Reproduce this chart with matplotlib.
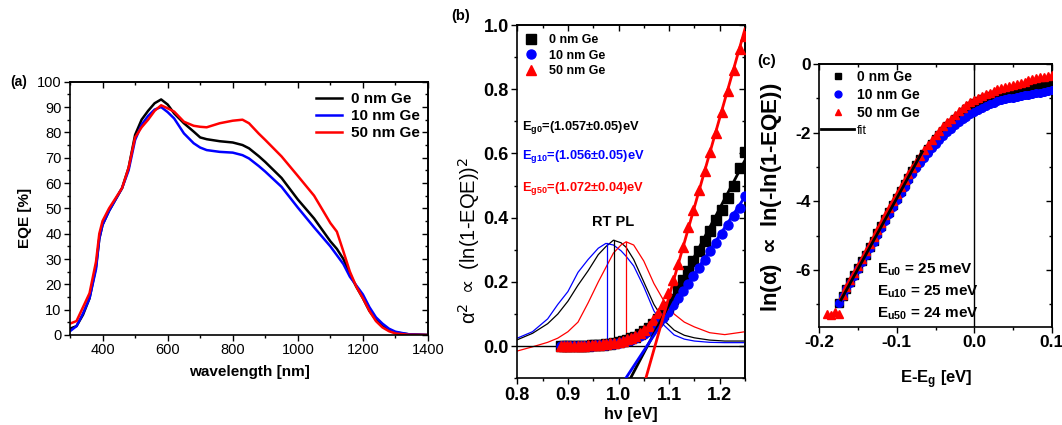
import matplotlib
matplotlib.use('Agg')
import matplotlib.pyplot as plt
from matplotlib.ticker import MultipleLocator

plt.rcParams['font.family'] = ['Liberation Sans', 'DejaVu Sans']
plt.rcParams['mathtext.fontset'] = 'custom'
plt.rcParams['mathtext.rm'] = 'Liberation Sans'
plt.rcParams['mathtext.bf'] = 'Liberation Sans:bold'
plt.rcParams['mathtext.it'] = 'Liberation Sans:italic'

# ---------------- data: panel (a) EQE ----------------
series_labels = ['0 nm Ge', '10 nm Ge', '50 nm Ge']
wavelength = [300, 320, 340, 360, 380, 390, 400, 420, 440, 460, 480, 500, 520, 540, 560, 580,
              600, 620, 650, 680, 700, 720, 760, 800, 830, 850, 880, 900, 950, 1000, 1050,
              1100, 1120, 1140, 1160, 1180, 1200, 1220, 1240, 1260, 1280, 1300, 1340, 1400]
eqe_0 = [2.5, 3.5, 8, 14.5, 27, 38, 43.5, 49, 53.5, 58, 66, 79, 85, 88.5, 91.5, 93,
         91, 87.5, 83.6, 80.3, 78, 77.3, 76.5, 76, 75, 73.7, 70.6, 68.3, 62, 53.5, 46,
         37, 34, 30, 24, 19, 14.5, 9.5, 6, 3.5, 2, 1, 0.3, 0]
eqe_10 = [1.5, 3.5, 8.5, 14.5, 26, 38, 43.5, 49, 53.5, 58, 65, 77, 83, 86.5, 89, 90,
          88, 85.5, 79.6, 75.7, 74, 73, 72.3, 72, 71, 69.7, 66.7, 64.5, 58.5, 50.3, 42.5,
          35, 31.5, 28, 23, 19.5, 16, 11, 7, 4.5, 2.5, 1.3, 0.3, 0]
eqe_50 = [4.5, 5.5, 11, 16.5, 29, 40, 45, 50, 54, 58, 66, 78, 82, 85, 88.5, 90.7,
          89.5, 88.2, 84.2, 82.6, 82.2, 82, 83.6, 84.6, 85, 83.6, 79.5, 77, 70.5, 62.8, 55,
          44.2, 40.8, 33, 25, 19, 14.5, 9.5, 5.5, 3, 1.5, 0.6, 0.1, 0]
a_xticks = [400, 600, 800, 1000, 1200, 1400]
a_xticklabels = ['400', '600', '800', '1000', '1200', '1400']
a_yticks = [0, 10, 20, 30, 40, 50, 60, 70, 80, 90, 100]
a_yticklabels = ['0', '10', '20', '30', '40', '50', '60', '70', '80', '90', '100']

# ---------------- data: panel (b) Tauc + PL ----------------
energy_b = [0.886, 0.892, 0.899, 0.905, 0.912, 0.919, 0.925, 0.932, 0.939, 0.947, 0.954,
            0.961, 0.969, 0.976, 0.984, 0.992, 1.000, 1.008, 1.016, 1.025, 1.033, 1.042,
            1.051, 1.060, 1.069, 1.078, 1.088, 1.097, 1.107, 1.117, 1.127, 1.138, 1.148,
            1.159, 1.170, 1.181, 1.192, 1.204, 1.216, 1.228, 1.240, 1.250]
tauc_0 = [0.000, 0.000, 0.000, 0.000, 0.001, 0.001, 0.001, 0.002, 0.002, 0.003, 0.003,
          0.004, 0.005, 0.006, 0.008, 0.010, 0.012, 0.015, 0.019, 0.024, 0.030, 0.037,
          0.046, 0.057, 0.070, 0.085, 0.100, 0.122, 0.148, 0.176, 0.205, 0.235, 0.265,
          0.295, 0.327, 0.360, 0.393, 0.425, 0.462, 0.500, 0.555, 0.605]
tauc_10 = [0.000, 0.000, 0.000, 0.000, 0.001, 0.001, 0.001, 0.002, 0.002, 0.002, 0.003,
           0.003, 0.004, 0.005, 0.006, 0.008, 0.010, 0.013, 0.016, 0.020, 0.025, 0.031,
           0.039, 0.048, 0.059, 0.072, 0.088, 0.107, 0.128, 0.150, 0.172, 0.195, 0.218,
           0.243, 0.268, 0.295, 0.322, 0.350, 0.378, 0.405, 0.430, 0.468]
tauc_50 = [0.000, 0.000, 0.000, 0.001, 0.001, 0.001, 0.002, 0.002, 0.003, 0.003, 0.004,
           0.005, 0.006, 0.007, 0.009, 0.011, 0.014, 0.017, 0.021, 0.026, 0.032, 0.040,
           0.050, 0.063, 0.080, 0.103, 0.130, 0.165, 0.205, 0.255, 0.310, 0.370, 0.425,
           0.485, 0.545, 0.605, 0.665, 0.730, 0.795, 0.860, 0.925, 0.965]
fit_eg = [1.057, 1.056, 1.072]        # Tauc fit intercepts (eV)
fit_slope = [3.0, 2.4, 5.55]          # Tauc fit slopes
eg_texts = [r'E$_{\mathbf{g0}}$=(1.057±0.05)eV',
            r'E$_{\mathbf{g10}}$=(1.056±0.05)eV',
            r'E$_{\mathbf{g50}}$=(1.072±0.04)eV']

energy_pl = [0.80, 0.83, 0.86, 0.88, 0.90, 0.92, 0.94, 0.96, 0.975, 0.99, 1.005, 1.015,
             1.03, 1.05, 1.07, 1.09, 1.11, 1.13, 1.15, 1.18, 1.21, 1.25]
pl_0 = [0.020, 0.040, 0.070, 0.100, 0.140, 0.190, 0.235, 0.285, 0.310, 0.330, 0.322, 0.308,
        0.270, 0.200, 0.130, 0.080, 0.050, 0.034, 0.026, 0.019, 0.016, 0.016]
pl_10 = [0.025, 0.045, 0.085, 0.130, 0.170, 0.230, 0.270, 0.305, 0.320, 0.315, 0.297, 0.280,
         0.250, 0.185, 0.110, 0.065, 0.035, 0.022, 0.016, 0.012, 0.011, 0.011]
pl_50 = [-0.015, -0.002, 0.012, 0.025, 0.045, 0.075, 0.135, 0.200, 0.245, 0.290, 0.315, 0.325,
         0.315, 0.265, 0.195, 0.140, 0.100, 0.075, 0.060, 0.042, 0.036, 0.045]
pl_peak_e = [0.992, 0.977, 1.015]
pl_peak_h = [0.332, 0.322, 0.325]
b_xticks = [0.8, 0.9, 1.0, 1.1, 1.2]
b_xticklabels = ['0.8', '0.9', '1.0', '1.1', '1.2']
b_yticks = [0.0, 0.2, 0.4, 0.6, 0.8, 1.0]
b_yticklabels = ['0.0', '0.2', '0.4', '0.6', '0.8', '1.0']

# ---------------- data: panel (c) Urbach ----------------
x_c = [-0.175, -0.170, -0.165, -0.160, -0.155, -0.150, -0.145, -0.140, -0.135, -0.130,
       -0.125, -0.120, -0.115, -0.110, -0.105, -0.100, -0.095, -0.090, -0.085, -0.080,
       -0.075, -0.070, -0.065, -0.060, -0.055, -0.050, -0.045, -0.040, -0.035, -0.030,
       -0.025, -0.020, -0.015, -0.010, -0.005, 0.000, 0.005, 0.010, 0.015, 0.020,
       0.025, 0.030, 0.035, 0.040, 0.045, 0.050, 0.055, 0.060, 0.065, 0.070,
       0.075, 0.080, 0.085, 0.090, 0.095, 0.100]
urb_0 = [-6.95, -6.75, -6.55, -6.36, -6.15, -5.95, -5.75, -5.55, -5.34, -5.14,
         -4.93, -4.73, -4.52, -4.32, -4.11, -3.90, -3.70, -3.50, -3.31, -3.12,
         -2.95, -2.78, -2.62, -2.47, -2.33, -2.19, -2.06, -1.94, -1.82, -1.71,
         -1.60, -1.50, -1.41, -1.32, -1.23, -1.15, -1.09, -1.03, -0.98, -0.94,
         -0.90, -0.87, -0.84, -0.82, -0.80, -0.78, -0.75, -0.73, -0.70, -0.68,
         -0.66, -0.64, -0.62, -0.60, -0.58, -0.56]
urb_10 = [-6.95, -6.76, -6.56, -6.37, -6.17, -5.97, -5.77, -5.57, -5.37, -5.17,
          -4.97, -4.77, -4.57, -4.37, -4.17, -3.97, -3.77, -3.58, -3.39, -3.21,
          -3.04, -2.88, -2.73, -2.59, -2.45, -2.32, -2.20, -2.09, -1.98, -1.88,
          -1.78, -1.69, -1.61, -1.53, -1.46, -1.39, -1.33, -1.27, -1.22, -1.17,
          -1.13, -1.09, -1.06, -1.03, -1.00, -0.98, -0.95, -0.93, -0.91, -0.89,
          -0.87, -0.85, -0.83, -0.81, -0.79, -0.77]
x_c50 = [-0.190, -0.185, -0.180] + x_c
urb_50 = [-7.27, -7.32, -7.22,
          -7.28, -6.72, -6.50, -6.30, -6.09, -5.88, -5.67, -5.46, -5.25, -5.04,
          -4.83, -4.62, -4.41, -4.20, -3.99, -3.79, -3.59, -3.39, -3.20, -3.02,
          -2.84, -2.67, -2.51, -2.36, -2.21, -2.07, -1.94, -1.82, -1.70, -1.59,
          -1.48, -1.38, -1.29, -1.20, -1.12, -1.04, -0.98, -0.93, -0.88, -0.83,
          -0.78, -0.74, -0.70, -0.67, -0.63, -0.60, -0.57, -0.54, -0.51, -0.48,
          -0.45, -0.42, -0.39, -0.37, -0.34, -0.31]
urb_fit_x = [-0.172, -0.067]
urb_fit_y0 = -6.87
urb_fit_slope = 41.1
eu_texts = [r'E$_{\mathbf{u0}}$ = 25 meV', r'E$_{\mathbf{u10}}$ = 25 meV',
            r'E$_{\mathbf{u50}}$ = 24 meV']
c_xticks = [-0.2, -0.1, 0.0, 0.1]
c_xticklabels = ['-0.2', '-0.1', '0.0', '0.1']
c_yticks = [0, -2, -4, -6]
c_yticklabels = ['0', '-2', '-4', '-6']

colors = ['black', '#0000ff', '#ff0000']

# ---------------- figure ----------------
W, H = 1062, 425
fig = plt.figure(figsize=(W / 100, H / 100), dpi=100)


def fx(p):
    return p / W


def fy(p):
    return 1 - p / H


def box(l, t, r, b):
    return [l / W, 1 - b / H, (r - l) / W, (b - t) / H]


ax_a = fig.add_axes(box(70, 81.7, 428, 335))
ax_b = fig.add_axes(box(517.3, 25, 745, 378.3))
ax_c = fig.add_axes(box(819.3, 64, 1051.7, 326.7))


def style(ax, xt, xtl, yt, ytl, xminor, yminor, size, weight):
    ax.set_xticks(xt)
    ax.set_xticklabels(xtl, fontsize=size, fontweight=weight)
    ax.set_yticks(yt)
    ax.set_yticklabels(ytl, fontsize=size, fontweight=weight)
    ax.xaxis.set_minor_locator(MultipleLocator(xminor))
    ax.yaxis.set_minor_locator(MultipleLocator(yminor))
    ax.tick_params(which='both', direction='out', width=1.0, pad=2)
    ax.tick_params(which='major', length=4)
    ax.tick_params(which='minor', length=2.5)
    for s in ax.spines.values():
        s.set_linewidth(1.2)
    sx = ax.secondary_xaxis('top')
    sx.set_xticks(xt)
    sx.xaxis.set_minor_locator(MultipleLocator(xminor))
    sx.tick_params(which='both', direction='in', labeltop=False, width=1.0)
    sx.tick_params(which='major', length=4)
    sx.tick_params(which='minor', length=2.5)
    sx.spines['top'].set_linewidth(1.2)
    sy = ax.secondary_yaxis('right')
    sy.set_yticks(yt)
    sy.yaxis.set_minor_locator(MultipleLocator(yminor))
    sy.tick_params(which='both', direction='in', labelright=False, width=1.0)
    sy.tick_params(which='major', length=4)
    sy.tick_params(which='minor', length=2.5)
    sy.spines['right'].set_linewidth(1.2)


# ---- panel (a)
for y, c, lab in zip([eqe_0, eqe_10, eqe_50], colors, series_labels):
    ax_a.plot(wavelength, y, color=c, lw=1.8, label=lab)
ax_a.set_xlim(300, 1400)
ax_a.set_ylim(0, 100)
style(ax_a, a_xticks, a_xticklabels, a_yticks, a_yticklabels, 100, 5, 10.5, 'normal')
ax_a.legend(loc='upper left', bbox_to_anchor=(fx(316), fy(92)), bbox_transform=fig.transFigure,
            frameon=False, prop={'weight': 'bold', 'size': 11}, handlelength=1.7,
            handletextpad=0.6, labelspacing=0.2, borderpad=0, borderaxespad=0)

# ---- panel (b)
for y, c in zip([pl_0, pl_10, pl_50], colors):
    ax_b.plot(energy_pl, y, color=c, lw=0.9, zorder=2)
for e, h, c in zip(pl_peak_e, pl_peak_h, colors):
    ax_b.plot([e, e], [0, h], color=c, lw=0.9, zorder=2)
ax_b.axhline(0, color='black', lw=1.0, zorder=2)
markers_b = ['s', 'o', '^']
handles_b = []
for y, c, m, lab in zip([tauc_0, tauc_10, tauc_50], colors, markers_b, series_labels):
    h, = ax_b.plot(energy_b, y, ls='none', marker=m, ms=6.5, color=c, mec=c, label=lab, zorder=3)
    handles_b.append(h)
for eg, sl, c in zip(fit_eg, fit_slope, colors):
    e0 = eg - 0.1 / sl
    ax_b.plot([e0, 1.25], [-0.1, sl * (1.25 - eg)], color=c, lw=2.0, zorder=4)
ax_b.set_xlim(0.8, 1.25)
ax_b.set_ylim(-0.1, 1.0)
style(ax_b, b_xticks, b_xticklabels, b_yticks, b_yticklabels, 0.05, 0.1, 13, 'bold')
ax_b.legend(handles=handles_b, loc='upper left', bbox_to_anchor=(fx(525), fy(34)),
            bbox_transform=fig.transFigure, frameon=False,
            prop={'weight': 'bold', 'size': 9}, handlelength=1.0, handletextpad=0.9,
            labelspacing=0.3, borderpad=0, borderaxespad=0)
for t, c, py in zip(eg_texts, colors, [128, 156.7, 188.3]):
    fig.text(fx(522), fy(py), t, color=c, fontweight='bold', fontsize=9.3, va='center', ha='left')
fig.text(fx(613), fy(221.7), 'RT PL', fontweight='bold', fontsize=10.5, va='center', ha='center')

# ---- panel (c)
markers_c = ['s', 'o', '^']
handles_c = []
for xs, y, c, m, lab in zip([x_c, x_c, x_c50], [urb_0, urb_10, urb_50], colors, markers_c,
                            series_labels):
    h, = ax_c.plot(xs, y, ls='none', marker=m, ms=5.5, color=c, mec=c, label=lab, zorder=3)
    handles_c.append(h)
ax_c.axvline(0, color='black', lw=1.0, zorder=2)
fy_ = [urb_fit_y0 + urb_fit_slope * (x - urb_fit_x[0]) for x in urb_fit_x]
fit_h, = ax_c.plot(urb_fit_x, fy_, color='black', lw=2.0, zorder=4, label='fit')
handles_c.append(fit_h)
ax_c.set_xlim(-0.2, 0.1)
ax_c.set_ylim(-7.65, 0)
style(ax_c, c_xticks, c_xticklabels, c_yticks, c_yticklabels, 0.05, 1, 12.5, 'bold')
leg_c = ax_c.legend(handles=handles_c, loc='upper left', bbox_to_anchor=(fx(821), fy(70)),
                    bbox_transform=fig.transFigure, frameon=False,
                    prop={'weight': 'bold', 'size': 10}, handlelength=2.4, handletextpad=0.2,
                    labelspacing=0.3, borderpad=0, borderaxespad=0, markerscale=0.9)
leg_c.get_texts()[3].set_fontweight('normal')
leg_c.get_texts()[3].set_fontsize(9)
for t, py in zip(eu_texts, [270, 291.7, 313.3]):
    fig.text(fx(876.7), fy(py), t, fontweight='bold', fontsize=11, va='center', ha='left')

# ---- axis labels & panel letters
fig.text(fx(249), fy(371.7), 'wavelength [nm]', fontweight='bold', fontsize=11, ha='center', va='center')
fig.text(fx(25), fy(218), 'EQE [%]', fontweight='bold', fontsize=11, ha='center', va='center', rotation=90)
fig.text(fx(631), fy(415), 'hν [eV]', fontweight='bold', fontsize=11.5, ha='center', va='center')
fig.text(fx(469), fy(240), r'α$^2$ $\propto$ (ln(1-EQE))$^2$', fontsize=14.5, ha='center',
         va='center', rotation=90, math_fontfamily='dejavusans')
fig.text(fx(936.7), fy(380), r'E-E$_{\mathbf{g}}$ [eV]', fontweight='bold', fontsize=12, ha='center', va='center')
fig.text(fx(771.7), fy(197), r'ln(α) $\mathbf{\propto}$ ln(-ln(1-EQE))', fontweight='bold', fontsize=16,
         ha='center', va='center', rotation=90, math_fontfamily='dejavusans')
fig.text(fx(19), fy(82), '(a)', fontweight='bold', fontsize=10, ha='center', va='center')
fig.text(fx(461), fy(16), '(b)', fontweight='bold', fontsize=10.5, ha='center', va='center')
fig.text(fx(767), fy(61), '(c)', fontweight='bold', fontsize=11, ha='center', va='center')

fig.savefig('out.png', dpi=100)
